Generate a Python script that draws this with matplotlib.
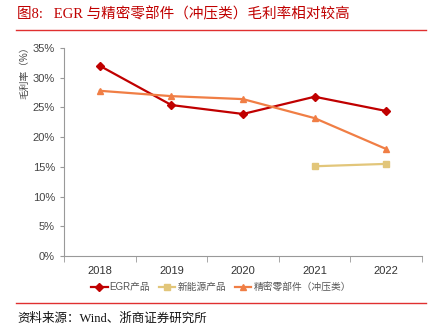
import matplotlib
matplotlib.use("Agg")
import matplotlib.pyplot as plt
from matplotlib.lines import Line2D
from matplotlib.ticker import FixedLocator, PercentFormatter

years = ["2018", "2019", "2020", "2021", "2022"]
egr = [32.0, 25.4, 23.9, 26.8, 24.4]
new_energy = [None, None, None, 15.1, 15.5]
stamping = [27.8, 26.9, 26.4, 23.2, 18.0]
series_names = ["EGR产品", "新能源产品", "精密零部件（冲压类）"]

title = "图8:   EGR 与精密零部件（冲压类）毛利率相对较高"
source = "资料来源：Wind、浙商证券研究所"

plt.rcParams["font.family"] = ["Liberation Sans", "Noto Sans CJK SC"]
W, H = 444, 335
fig = plt.figure(figsize=(W / 100, H / 100), dpi=100)
ax = fig.add_axes([64 / W, 1 - 256 / H, (422 - 64) / W, (256 - 48) / H])

x = list(range(len(years)))
ax.plot(x, egr, color="#C00000", lw=1.6, marker="D", ms=4, zorder=3)
xs = [i for i, v in zip(x, new_energy) if v is not None]
vs = [v for v in new_energy if v is not None]
ax.plot(xs, vs, color="#E2C67A", lw=1.6, marker="s", ms=5, zorder=3)
ax.plot(x, stamping, color="#F07E45", lw=1.6, marker="^", ms=5, zorder=3)

ax.set_xlim(-0.5, len(years) - 0.5)
ax.set_ylim(0, 35)
ax.set_yticks(range(0, 36, 5))
ax.yaxis.set_major_formatter(PercentFormatter(decimals=0))
ax.set_xticks(x)
ax.set_xticklabels(years)
ax.xaxis.set_minor_locator(FixedLocator([i - 0.5 for i in range(len(years) + 1)]))
ax.tick_params(axis="x", which="major", length=0, pad=7, labelsize=8, colors="#333333")
ax.tick_params(axis="x", which="minor", length=4, color="#999999")
ax.tick_params(axis="y", length=3, color="#999999", labelsize=8, labelcolor="#444444")
for s in ("top", "right"):
    ax.spines[s].set_visible(False)
for s in ("left", "bottom"):
    ax.spines[s].set_color("#999999")
    ax.spines[s].set_linewidth(0.8)

fig.text(24 / W, 1 - 70 / H, "毛利率（%）", rotation=90, ha="center", va="center",
         fontsize=7, color="#444444")

handles = [
    Line2D([], [], color="#C00000", lw=1.6, marker="D", ms=4),
    Line2D([], [], color="#E2C67A", lw=1.6, marker="s", ms=5),
    Line2D([], [], color="#F07E45", lw=1.6, marker="^", ms=5),
]
fig.legend(handles, series_names, loc="center", bbox_to_anchor=(221 / W, 1 - 287 / H),
           ncol=3, frameon=False, fontsize=7, handlelength=1.7, handletextpad=0.2,
           columnspacing=0.9, labelcolor="#555555", borderpad=0, borderaxespad=0)

fig.text(17 / W, 1 - 14 / H, title, ha="left", va="center", fontsize=10.5, color="#C00000",
         family=["Liberation Serif", "Noto Sans CJK SC"])
fig.add_artist(Line2D([16 / W, 426 / W], [1 - 30 / H] * 2, color="#E03030", lw=1))
fig.add_artist(Line2D([16 / W, 426 / W], [1 - 303 / H] * 2, color="#E03030", lw=1))
fig.text(17 / W, 1 - 319 / H, source, ha="left", va="center", fontsize=9, color="#111111",
         family=["Liberation Serif", "Noto Sans CJK SC"])

fig.savefig("out.png", dpi=100)
